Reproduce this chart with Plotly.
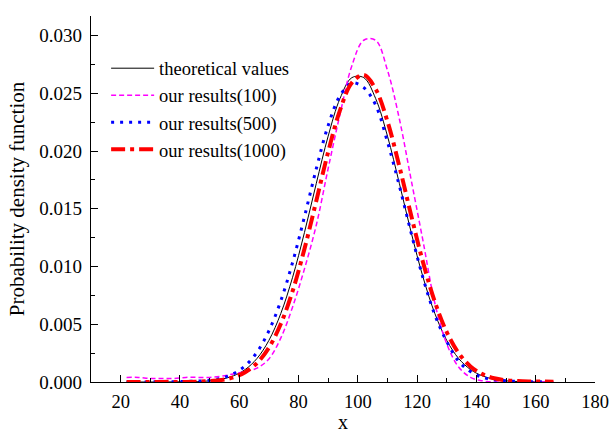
import plotly.graph_objects as go

# x positions of the sampled points
x_vals = [22, 26, 30, 34, 38, 42, 46, 50, 54, 58, 62, 66, 70, 74, 78, 82, 86, 90, 94, 98,
          102, 106, 110, 114, 118, 122, 126, 130, 134, 138, 142, 146, 150, 154, 158, 162, 166]

theoretical = [0.0, 0.0, 0.0, 0.0, 0.00001, 0.00002, 0.00004, 0.00010, 0.00024, 0.00053,
               0.00108, 0.00204, 0.00360, 0.00592, 0.00907, 0.01295, 0.01721, 0.02130, 0.02456, 0.02636,
               0.02636, 0.02456, 0.02130, 0.01721, 0.01295, 0.00907, 0.00592, 0.00360, 0.00204, 0.00108,
               0.00053, 0.00024, 0.00010, 0.00004, 0.00002, 0.00001, 0.0]

results_100 = [0.0004, 0.0004, 0.0003, 0.0003, 0.0003, 0.0004, 0.0004, 0.0004, 0.0005, 0.0007,
               0.0009, 0.0012, 0.0020, 0.0038, 0.0065, 0.0098, 0.0136, 0.0185, 0.0232, 0.0274,
               0.0296, 0.0296, 0.0270, 0.0228, 0.0175, 0.0122, 0.0068, 0.0033, 0.0013, 0.0004,
               0.0001, 0.0, 0.0, 0.0, 0.0, 0.0, 0.0]

results_500 = [0.00000, 0.00001, 0.00001, 0.00002, 0.00003, 0.00005, 0.00008, 0.00015, 0.00033, 0.00071,
               0.00140, 0.00258, 0.00443, 0.00701, 0.01036, 0.01431, 0.01848, 0.02222, 0.0248, 0.0259,
               0.0255, 0.0240, 0.0208, 0.0170, 0.0129, 0.0090, 0.0058, 0.0035, 0.0018, 0.0009,
               0.0004, 0.0002, 0.0001, 0.00005, 0.00003, 0.00002, 0.0]

results_1000 = [0.0, 0.0, 0.0, 0.00001, 0.00001, 0.00001, 0.00003, 0.00008, 0.00018, 0.00040,
                0.00085, 0.00164, 0.00297, 0.00502, 0.00788, 0.01153, 0.01570, 0.01993, 0.02355, 0.02592,
                0.02659, 0.02538, 0.02257, 0.01869, 0.01442, 0.01036, 0.00693, 0.00432, 0.00251, 0.00135,
                0.00068, 0.00032, 0.00015, 0.00008, 0.00005, 0.00004, 0.00002]

series_names = ["theoretical values", "our results(100)", "our results(500)", "our results(1000)"]

x_ticks = [20, 40, 60, 80, 100, 120, 140, 160, 180]
y_ticks = [0.000, 0.005, 0.010, 0.015, 0.020, 0.025, 0.030]

x_title = "x"
y_title = "Probability density function"

FONT = "Liberation Serif"

fig = go.Figure()
fig.add_trace(go.Scatter(x=x_vals, y=theoretical, name=series_names[0], mode="lines",
                         line=dict(color="black", width=1, shape="spline")))
fig.add_trace(go.Scatter(x=x_vals, y=results_100, name=series_names[1], mode="lines",
                         line=dict(color="#FF00FF", width=1.5, dash="5px,3px", shape="spline")))
fig.add_trace(go.Scatter(x=x_vals, y=results_500, name=series_names[2], mode="lines",
                         line=dict(color="#0000FF", width=3, dash="3px,6px", shape="spline")))
fig.add_trace(go.Scatter(x=x_vals, y=results_1000, name=series_names[3], mode="lines",
                         line=dict(color="#FF0000", width=4, dash="14px,5px,4px,5px", shape="spline")))

fig.add_annotation(text=x_title, xref="paper", yref="paper", x=0.5, y=-0.142,
                   xanchor="center", yanchor="bottom", showarrow=False, borderpad=0,
                   font=dict(family=FONT, size=20, color="black"))

fig.update_layout(
    width=610, height=434,
    margin=dict(l=91, r=15, t=16, b=52),
    paper_bgcolor="white", plot_bgcolor="white",
    font=dict(family=FONT, size=19, color="black"),
    showlegend=True,
    legend=dict(x=0.03, y=0.908, xanchor="left", yanchor="top",
                font=dict(family=FONT, size=18.5, color="black"),
                bgcolor="rgba(0,0,0,0)", itemwidth=43, tracegroupgap=0),
    xaxis=dict(range=[10, 180], tickvals=x_ticks, ticks="inside", ticklen=7, tickwidth=1,
               tickcolor="black", showline=True, linecolor="black", linewidth=1.2,
               showgrid=False, zeroline=False, mirror=False, ticklabelstandoff=3, automargin=False,
               minor=dict(dtick=10, tick0=0, ticks="inside", ticklen=4, tickcolor="black", showgrid=False),
               tickfont=dict(family=FONT, size=18.5)),
    yaxis=dict(range=[0, 0.0317], tickvals=y_ticks, tickformat=".3f", ticks="inside", ticklen=7,
               tickwidth=1, tickcolor="black", showline=True, linecolor="black", linewidth=1.2,
               showgrid=False, zeroline=False, mirror=False, ticklabelstandoff=4, automargin=False,
               minor=dict(dtick=0.0025, tick0=0, ticks="inside", ticklen=4, tickcolor="black", showgrid=False),
               title=dict(text=y_title, font=dict(family=FONT, size=21), standoff=8),
               tickfont=dict(family=FONT, size=19)),
)

fig.write_html("out.html")
